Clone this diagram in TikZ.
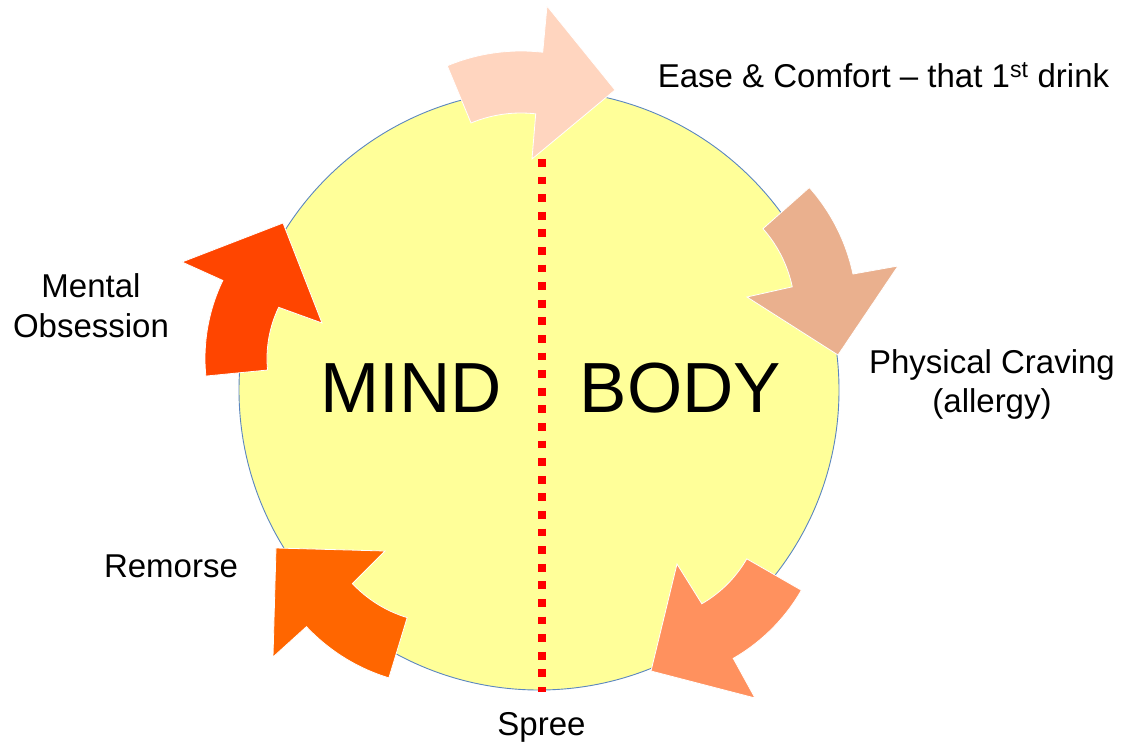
\documentclass[tikz,border=0pt]{standalone}
\usepackage{fontspec}
\setmainfont{Liberation Sans}
\usepackage{xcolor}
\usepackage{tikz}
\usetikzlibrary{calc,positioning}

\definecolor{ringfill}{HTML}{FFFF99}
\definecolor{ringline}{HTML}{5B86C0}
\definecolor{easecol}{HTML}{FFD5BF}
\definecolor{cravecol}{HTML}{EAB08E}
\definecolor{spreecol}{HTML}{FF915E}
\definecolor{remorsecol}{HTML}{FF6600}
\definecolor{mentalcol}{HTML}{FF4500}

\begin{document}
\begin{tikzpicture}[x=1pt, y=-1pt,
  label/.style={inner sep=0pt, anchor=base, align=center, font=\fontsize{33}{39.5}\selectfont},
  big/.style={inner sep=0pt, anchor=base, font=\fontsize{71}{80}\selectfont},
  bentarrow/.style={draw=white, line width=0.8pt, line join=miter}]
  \useasboundingbox (0,0) rectangle (1124,744);

  \node[circle, draw=ringline, line width=0.9pt, fill=ringfill, minimum size=600pt, inner sep=0pt] (ring) at (539,390) {};

  \coordinate (divtop) at (542,159);
  \coordinate (divbot) at (542,692);
  \draw[red, line width=7.8pt, dash pattern=on 7.8pt off 9.8pt] (divtop) -- (divbot);

  \coordinate (a1) at (521,243);
  \coordinate (a2) at (668,313);
  \coordinate (a3) at (641,498);
  \coordinate (a4) at (443.5,498);
  \coordinate (a5) at (385,358.5);

  \filldraw[bentarrow, fill=easecol] ($(a1)+(247.4:192)$) arc[start angle=112.6, end angle=83.5, radius=192pt]
    -- (547,6) -- (615,90) -- (532,159) -- ($(a1)+(276.5:130)$)
    arc[start angle=83.5, end angle=112.6, radius=130pt] -- cycle;
  \filldraw[bentarrow, fill=cravecol] ($(a2)+(318.4:189)$) arc[start angle=41.6, end angle=11.9, radius=189pt]
    -- (898,266) -- (838,355) -- (747,297) -- ($(a2)+(348.1:127)$)
    arc[start angle=11.9, end angle=41.6, radius=127pt] -- cycle;
  \filldraw[bentarrow, fill=spreecol] ($(a3)+(29.9:185)$) arc[start angle=-29.9, end angle=-60.1, radius=185pt]
    -- (755,698) -- (651,671) -- (677,564) -- ($(a3)+(60.1:122)$)
    arc[start angle=-60.1, end angle=-29.9, radius=122pt] -- cycle;
  \filldraw[bentarrow, fill=remorsecol] ($(a4)+(106.9:188)$) arc[start angle=-106.9, end angle=-136.8, radius=188pt]
    -- (273,657) -- (276,548) -- (385,551) -- ($(a4)+(136.8:125)$)
    arc[start angle=-136.8, end angle=-106.9, radius=125pt] -- cycle;
  \filldraw[bentarrow, fill=mentalcol] ($(a5)+(174.4:180)$) arc[start angle=-174.4, end angle=-205.7, radius=180pt]
    -- (182,262) -- (283,223) -- (322,323) -- ($(a5)+(205.7:118)$)
    arc[start angle=-205.7, end angle=-174.4, radius=118pt] -- cycle;

  \node[big] (mind) at (411,412) {MIND};
  \node[big] (body) at (680.5,412) {BODY};

  \node[label] (ease) at (883.5,87) {Ease \& Comfort -- that 1\textsuperscript{st} drink};
  \node[label] (craving) at (992,412.5) {Physical Craving\\(allergy)};
  \node[label] (spree) at (541.5,735) {Spree};
  \node[label] (remorse) at (171,577) {Remorse};
  \node[label] (obsession) at (91,337) {Mental\\Obsession};
\end{tikzpicture}
\end{document}
